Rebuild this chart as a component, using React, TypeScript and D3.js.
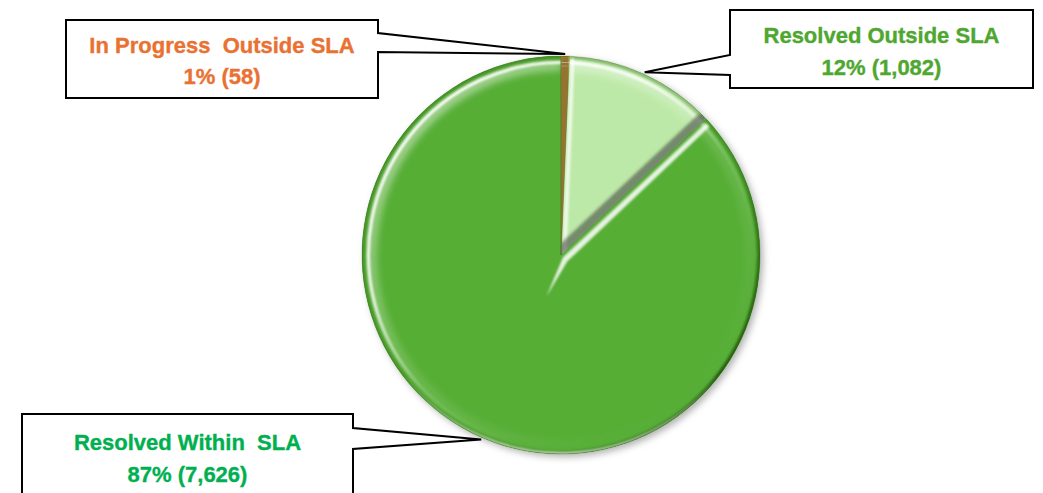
import React from "react";
import * as d3 from "d3";

const W = 1043;
const H = 493;

// ---- data ----
const categories = ["In Progress  Outside SLA", "Resolved Outside SLA", "Resolved Within  SLA"];
const values = [58, 1082, 7626];
const sliceColors = ["#C8922A", "#BDE9A8", "#56AE35"];
const textColors = ["#E97132", "#4EA72E", "#00B050"];

// ---- layout ----
const CX = 561;
const CY = 255;
const R = 199;
const TIP_R = 201;
const boxes = [
  { x0: 66, y0: 20, x1: 378, y1: 98, side: "right", w0: 33, w1: 52, b1: 53, b2: 84 },
  { x0: 730, y0: 10, x1: 1033, y1: 88, side: "left", w0: 55, w1: 75, b1: 43, b2: 75 },
  { x0: 22, y0: 414, x1: 353, y1: 520, side: "right", w0: 428, w1: 449, b1: 450, b2: 482 },
];

const FONT = "'Liberation Sans', Arial, sans-serif";
const LIGHT = (() => {
  const v = [-1, -1.25];
  const m = Math.hypot(v[0], v[1]);
  return [v[0] / m, v[1] / m];
})();

function callout(b: any, tip: [number, number]) {
  const p = d3.path();
  if (b.side === "right") {
    p.moveTo(b.x0, b.y0);
    p.lineTo(b.x1, b.y0);
    p.lineTo(b.x1, b.w0);
    p.lineTo(tip[0], tip[1]);
    p.lineTo(b.x1, b.w1);
    p.lineTo(b.x1, b.y1);
    p.lineTo(b.x0, b.y1);
    p.closePath();
  } else {
    p.moveTo(b.x0, b.y0);
    p.lineTo(b.x1, b.y0);
    p.lineTo(b.x1, b.y1);
    p.lineTo(b.x0, b.y1);
    p.lineTo(b.x0, b.w1);
    p.lineTo(tip[0], tip[1]);
    p.lineTo(b.x0, b.w0);
    p.closePath();
  }
  return p.toString();
}

const pt = (a: number, r: number): [number, number] => [r * Math.sin(a), -r * Math.cos(a)];

function rimArc(a0: number, a1: number, r: number) {
  const p = d3.path();
  const s = pt(a0, r);
  p.moveTo(s[0], s[1]);
  p.arc(0, 0, r, a0 - Math.PI / 2, a1 - Math.PI / 2);
  return p.toString();
}

export default function App() {
  const pie = d3.pie<number>().sort(null).value((d) => d);
  const arcs = pie(values);
  const total = d3.sum(values);
  const arcGen = d3.arc<any>().innerRadius(0).outerRadius(R);
  const pct = (v: number) => Math.round((v / total) * 100) + "%";
  const num = d3.format(",");

  const edgeStyle = (n: [number, number]) => {
    const dot = n[0] * LIGHT[0] + n[1] * LIGHT[1];
    if (dot >= 0) return { stroke: "#ffffff", opacity: 0.3 + 0.65 * dot, dark: false };
    return { stroke: "#3a3a3a", opacity: 0.55 * -dot, dark: true };
  };

  const order = [2, 1, 0];
  const inset = (n: [number, number], p: [number, number], d: number): [number, number] => [
    p[0] - n[0] * d,
    p[1] - n[1] * d,
  ];

  return (
    <svg width={W} height={H} style={{ position: "absolute", left: 0, top: 0, background: "#fff" }}>
      <defs>
        <filter id="shadow" x="-20%" y="-20%" width="140%" height="140%">
          <feDropShadow dx="3" dy="3" stdDeviation="3.5" floodColor="#000" floodOpacity="0.3" />
        </filter>
        <filter id="blur" x="-20%" y="-20%" width="140%" height="140%">
          <feGaussianBlur stdDeviation="3" />
        </filter>
        <filter id="blurM" x="-20%" y="-20%" width="140%" height="140%">
          <feGaussianBlur stdDeviation="1.8" />
        </filter>
        <filter id="blurS" x="-20%" y="-20%" width="140%" height="140%">
          <feGaussianBlur stdDeviation="0.9" />
        </filter>
        <linearGradient id="rimHi" gradientUnits="userSpaceOnUse" x1={R * LIGHT[0]} y1={R * LIGHT[1]} x2={-R * LIGHT[0]} y2={-R * LIGHT[1]}>
          <stop offset="0" stopColor="#ffffff" stopOpacity="1" />
          <stop offset="0.3" stopColor="#ffffff" stopOpacity="0.85" />
          <stop offset="0.55" stopColor="#ffffff" stopOpacity="0.15" />
          <stop offset="0.8" stopColor="#ffffff" stopOpacity="0.0" />
          <stop offset="1" stopColor="#ffffff" stopOpacity="0.0" />
        </linearGradient>
        <linearGradient id="rimSoft" gradientUnits="userSpaceOnUse" x1={R * LIGHT[0]} y1={R * LIGHT[1]} x2={-R * LIGHT[0]} y2={-R * LIGHT[1]}>
          <stop offset="0" stopColor="#ffffff" stopOpacity="0.45" />
          <stop offset="0.5" stopColor="#ffffff" stopOpacity="0.12" />
          <stop offset="1" stopColor="#ffffff" stopOpacity="0.0" />
        </linearGradient>
        <linearGradient id="rimDark" gradientUnits="userSpaceOnUse" x1={R * LIGHT[0]} y1={R * LIGHT[1]} x2={-R * LIGHT[0]} y2={-R * LIGHT[1]}>
          <stop offset="0" stopColor="#1f5a10" stopOpacity="0.35" />
          <stop offset="0.5" stopColor="#1f5a10" stopOpacity="0.3" />
          <stop offset="1" stopColor="#0f3a05" stopOpacity="0.7" />
        </linearGradient>
        <linearGradient id="rimBottom" gradientUnits="userSpaceOnUse" x1={0} y1={-R} x2={0} y2={R}>
          <stop offset="0.8" stopColor="#dff5d0" stopOpacity="0" />
          <stop offset="1" stopColor="#dff5d0" stopOpacity="0.9" />
        </linearGradient>
        {arcs.map((a, i) => (
          <clipPath id={"clip" + i} key={i}>
            <path d={arcGen(a) as string} />
          </clipPath>
        ))}
      </defs>

      <g transform={`translate(${CX},${CY})`}>
        <g filter="url(#shadow)">
          {arcs.map((a, i) => (
            <path key={i} d={arcGen(a) as string} fill={sliceColors[i]} />
          ))}
        </g>
        {order.map((i) => {
          const a = arcs[i];
          const a0 = a.startAngle;
          const a1 = a.endAngle;
          const n0: [number, number] = [-Math.cos(a0), -Math.sin(a0)];
          const n1: [number, number] = [Math.cos(a1), Math.sin(a1)];
          const big = a1 - a0 > Math.PI;
          const st0 = edgeStyle(n0);
          const st1 = edgeStyle(n1);
          const e0o = pt(a0, R - 3);
          const notch = pt(a0 + Math.PI - 0.48, 44);
          const stripe = big
            ? `M${inset(n0, e0o, 3)}L${inset(n0, e0o, 8)}L${inset(n0, [0, 0], 9)}L${notch}L${inset(n0, [0, 0], 3)}Z`
            : "";
          const e0Path = `M${inset(n0, pt(a0, R - 4), 3.5)}L${inset(n0, [0, 0], 3.5)}`;
          const e1Path = `M${inset(n1, pt(a1, R - 4), 3.5)}L${inset(n1, [0, 0], 3.5)}`;
          return (
            <g key={i}>
              <path d={arcGen(a) as string} fill={sliceColors[i]} />
              <g clipPath={`url(#clip${i})`}>
                <path d={rimArc(a0, a1, R - 10)} fill="none" stroke="url(#rimSoft)" strokeWidth={10} filter="url(#blur)" />
                <path d={rimArc(a0, a1, R)} fill="none" stroke="url(#rimDark)" strokeWidth={6} filter="url(#blurS)" />
                <path d={rimArc(a0, a1, R - 6.5)} fill="none" stroke="url(#rimHi)" strokeWidth={3.2} filter="url(#blurS)" />
                <path d={rimArc(a0, a1, R - 1)} fill="none" stroke="url(#rimBottom)" strokeWidth={2.5} filter="url(#blurS)" />
                {big ? (
                  <path d={stripe} fill="#ffffff" fillOpacity={0.85} filter="url(#blurS)" />
                ) : (
                  <path
                    d={e0Path}
                    fill="none"
                    stroke={st0.stroke}
                    strokeOpacity={st0.opacity}
                    strokeWidth={st0.dark ? 10 : 4}
                    strokeLinecap="round"
                    filter={st0.dark ? "url(#blurM)" : "url(#blurS)"}
                  />
                )}
                <path
                  d={e1Path}
                  fill="none"
                  stroke={st1.stroke}
                  strokeOpacity={st1.opacity}
                  strokeWidth={st1.dark ? 10 : 4}
                  strokeLinecap="round"
                  filter={st1.dark ? "url(#blurM)" : "url(#blurS)"}
                />
              </g>
              <path d={arcGen(a) as string} fill="none" stroke="#2a5a18" strokeOpacity={0.25} strokeWidth={1} />
            </g>
          );
        })}
      </g>

      {arcs.map((a, i) => {
        const mid = (a.startAngle + a.endAngle) / 2;
        const t = pt(mid, TIP_R);
        const tip: [number, number] = [CX + t[0], CY + t[1]];
        const b = boxes[i];
        const cx = (b.x0 + b.x1) / 2;
        const textProps = {
          textAnchor: "middle" as const,
          fontFamily: FONT,
          fontWeight: "bold",
          fontSize: 22,
          fill: textColors[i],
          stroke: textColors[i],
          strokeWidth: 0.35,
          style: { whiteSpace: "pre" as const },
        };
        return (
          <g key={"lab" + i}>
            <path d={callout(b, tip)} fill="#ffffff" stroke="#000" strokeWidth={2} strokeLinejoin="miter" />
            <text x={cx} y={b.b1} {...textProps}>
              {categories[i]}
            </text>
            <text x={cx} y={b.b2} {...textProps}>
              {`${pct(values[i])} (${num(values[i])})`}
            </text>
          </g>
        );
      })}
    </svg>
  );
}
